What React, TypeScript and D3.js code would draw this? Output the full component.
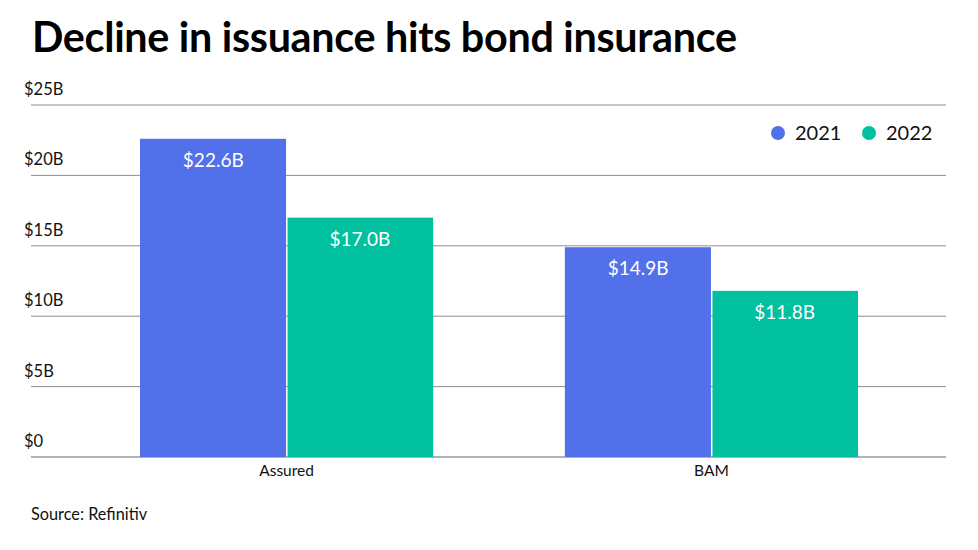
import React from "react";
import * as d3 from "d3";

const categories = ["Assured", "BAM"];
const seriesNames = ["2021", "2022"];
const values2021 = [22.6, 14.9];
const values2022 = [17.0, 11.8];
const yTicks = [0, 5, 10, 15, 20, 25];
const colors = ["#5170EA", "#00C09F"];

const W = 978;
const H = 550;

export default function App() {
  const y = d3.scaleLinear().domain([0, 25]).range([457, 105]);
  const x = d3.scaleBand<string>().domain(categories).range([55, 943]).paddingInner(0.31).paddingOuter(0.2);
  const xs = d3.scaleBand<string>().domain(seriesNames).range([0, x.bandwidth()]);
  const series = [values2021, values2022];
  const fmt = (v: number) => `$${v.toFixed(1)}B`;
  const font = "Lato, 'Open Sans', sans-serif";

  return (
    <svg width={W} height={H} style={{ position: "absolute", left: 0, top: 0, fontFamily: font }}>
      <rect width={W} height={H} fill="#fff" />
      <text x={32} y={52} fontSize={41.3} fontWeight={700} fill="#000" letterSpacing={-0.3}>
        Decline in issuance hits bond insurance
      </text>
      {yTicks.map((t) => (
        <g key={t}>
          <line x1={31} x2={946} y1={y(t)} y2={y(t)} stroke={t === 0 ? "#666" : "#8f8f8f"} strokeWidth={1} />
          <text x={24} y={y(t) - 10} fontSize={16.5} fill="#111">{`$${t === 0 ? "0" : t + "B"}`}</text>
        </g>
      ))}
      {categories.map((c, i) => (
        <g key={c} transform={`translate(${x(c)},0)`}>
          {series.map((vals, s) => {
            const bx = xs(seriesNames[s])!;
            const bw = xs.bandwidth();
            return (
              <g key={s}>
                <rect
                  x={bx + (s === 1 ? 1 : 0)}
                  y={y(vals[i])}
                  width={bw - (s === 1 ? 1 : 0.5)}
                  height={y(0) - y(vals[i])}
                  fill={colors[s]}
                />
                <text
                  x={bx + bw / 2}
                  y={y(vals[i]) + 28}
                  textAnchor="middle"
                  fontSize={19}
                  fill="#fff"
                >
                  {fmt(vals[i])}
                </text>
              </g>
            );
          })}
          <text x={x.bandwidth() / 2} y={476} textAnchor="middle" fontSize={15.5} fill="#111">{c}</text>
        </g>
      ))}
      {seriesNames.map((n, s) => {
        const cx = s === 0 ? 778 : 869;
        return (
          <g key={n}>
            <circle cx={cx} cy={133} r={7} fill={colors[s]} />
            <text x={cx + 17} y={140} fontSize={20} fill="#111">{n}</text>
          </g>
        );
      })}
      <text x={31} y={520} fontSize={16.3} fill="#111">Source: Refinitiv</text>
    </svg>
  );
}
